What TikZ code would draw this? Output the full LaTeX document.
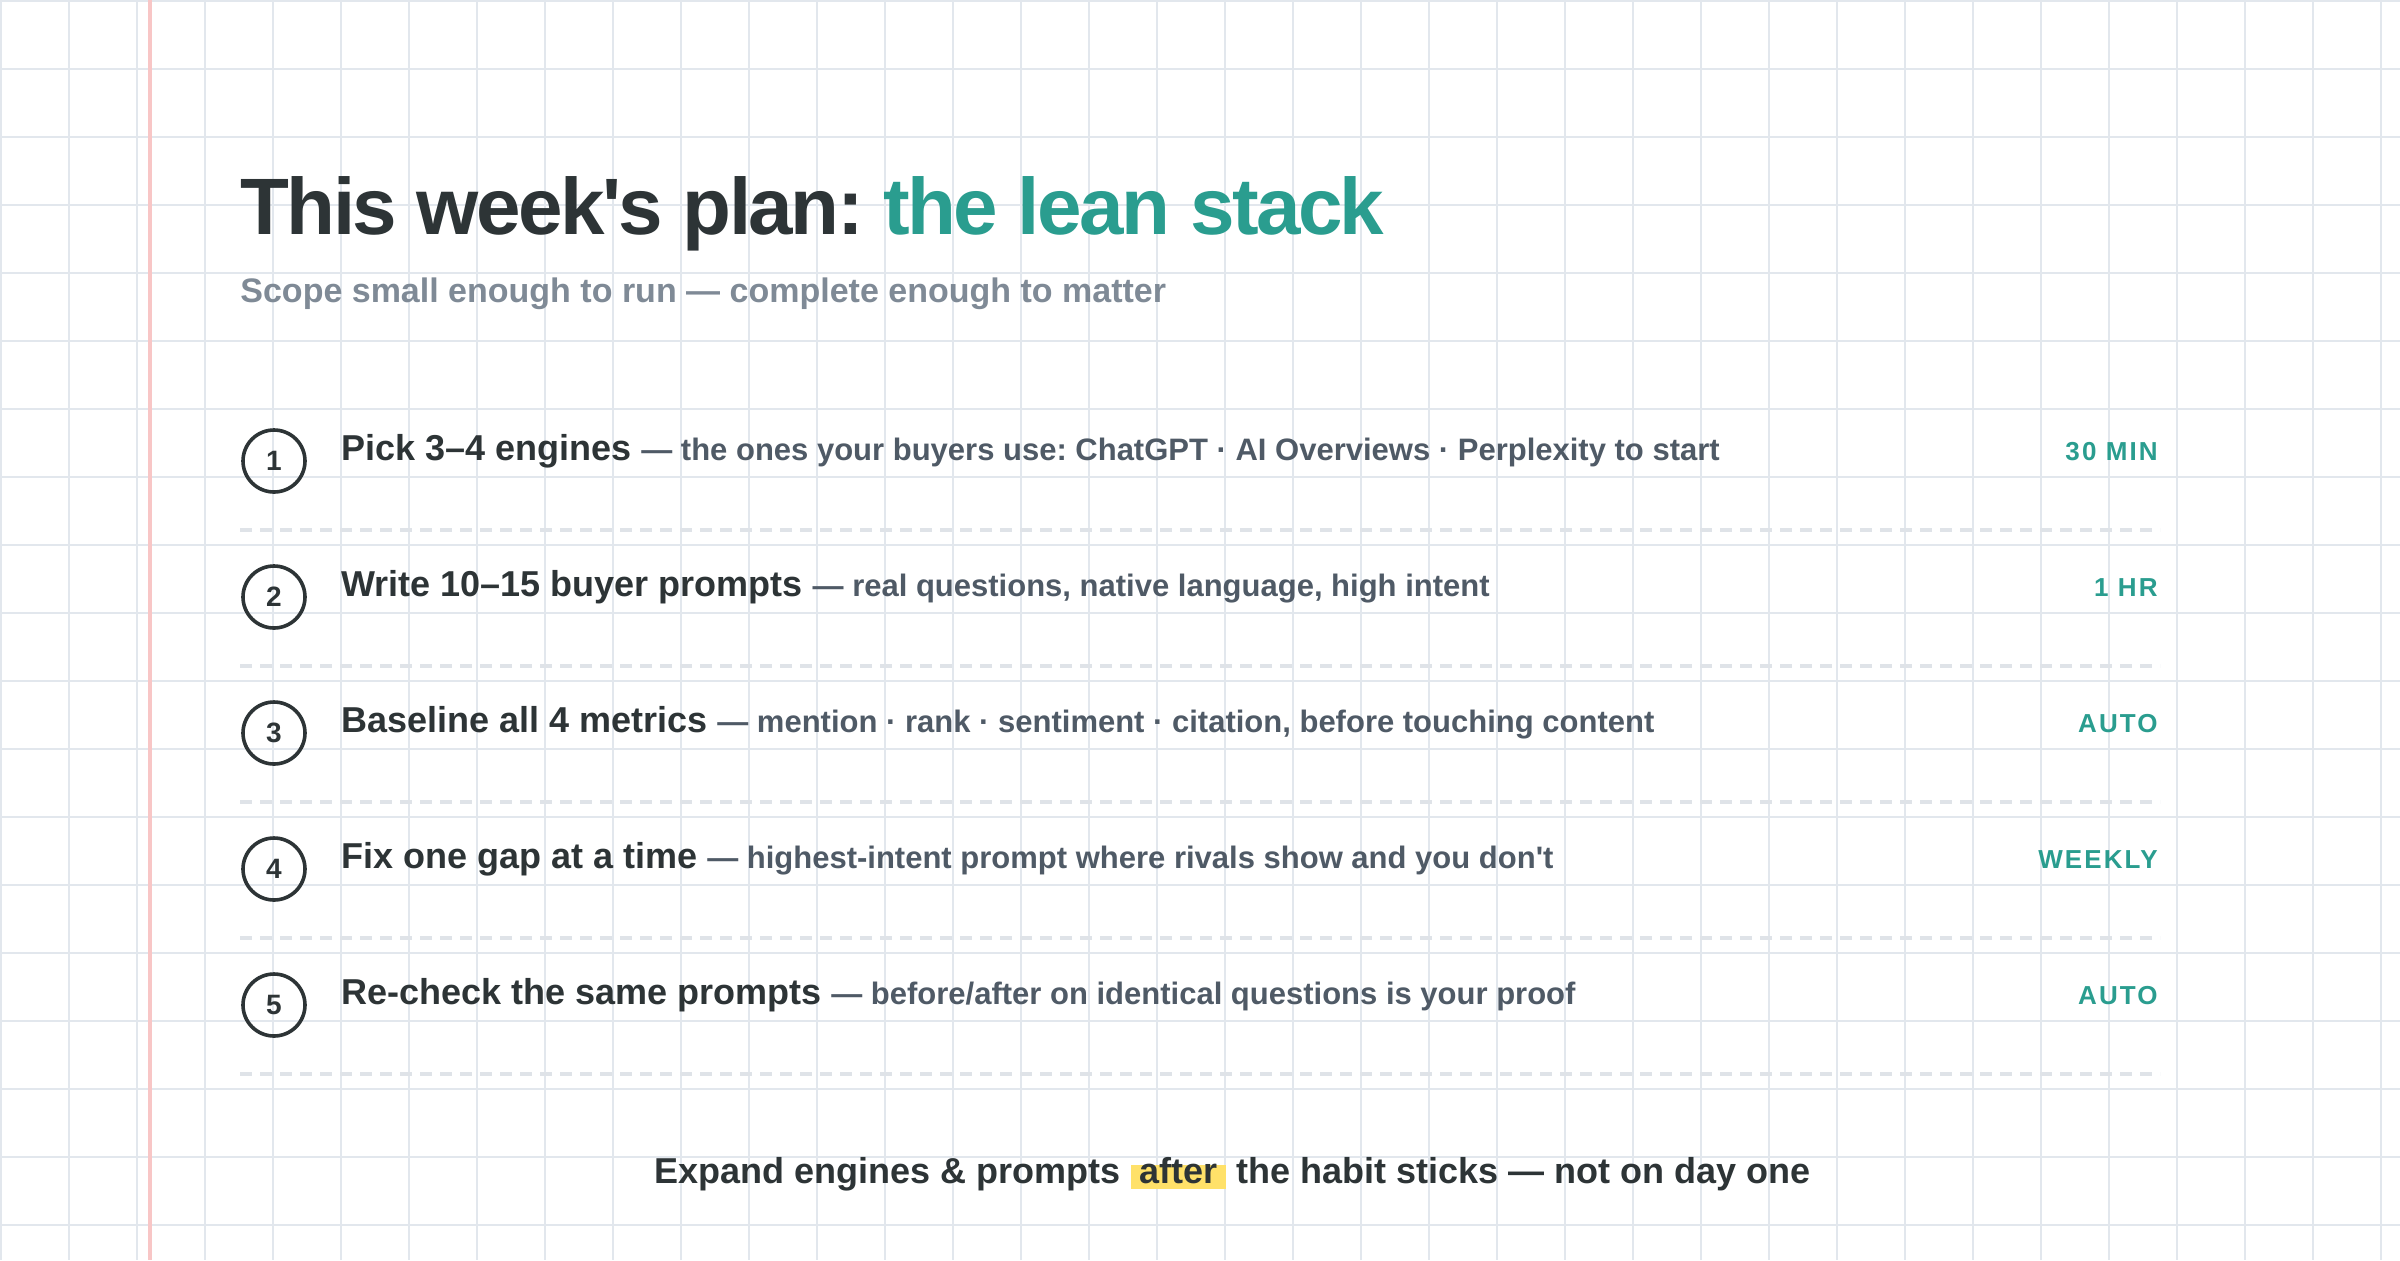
\documentclass[tikz,border=0pt]{standalone}
\usepackage{fontspec}
\setmainfont{Liberation Sans}[Ligatures=TeXOff]
\usetikzlibrary{positioning}
\frenchspacing
\definecolor{ink}{HTML}{2D3436}
\definecolor{leanteal}{HTML}{2A9D8F}
\definecolor{muted}{HTML}{7F8A96}
\definecolor{slate}{HTML}{4F5A66}
\definecolor{gridline}{HTML}{E2E7ED}
\definecolor{marginline}{HTML}{F8C6C6}
\definecolor{ruleline}{HTML}{DFE3E8}
\definecolor{marker}{HTML}{FFE169}
\pgfdeclarelayer{paper}
\pgfdeclarelayer{ink marker}
\pgfsetlayers{paper,ink marker,main}
\tikzset{
gridrule/.style={gridline, line width=1.4pt}, % squared paper
plantitle/.style={anchor=base west, inner sep=0, text=ink, font=\bfseries\fontsize{40}{48}\selectfont\addfontfeature{LetterSpace=-3.2}},
plansub/.style={anchor=base west, inner sep=0, text=muted, font=\bfseries\fontsize{17}{20}\selectfont},
num/.style={circle, draw=ink, line width=1.8pt, minimum size=31pt, inner sep=0, text=ink, font=\bfseries\fontsize{14}{16}\selectfont},
headtext/.style={anchor=base west, inner sep=0, text=ink, font=\bfseries\fontsize{18}{22}\selectfont},
infotext/.style={inner sep=0, text=slate, font=\bfseries\fontsize{15.5}{18}\selectfont},
duration/.style={anchor=base east, inner sep=0, text=leanteal, font=\bfseries\fontsize{13}{16}\selectfont\addfontfeature{LetterSpace=8}},
sepline/.style={ruleline, line width=1.6pt, dash pattern=on 6pt off 4pt}, % row separator
foottext/.style={inner sep=0, text=ink, font=\bfseries\fontsize{18}{22}\selectfont},
}

\begin{document}
\begin{tikzpicture}[x=1pt, y=-1pt]
    \useasboundingbox (0,0) rectangle (1200,630);
    % paper
    \begin{pgfonlayer}{paper}
    \fill[white] (0,0) rectangle (1200,630);
    \foreach \x in {0.5,34.5,...,1200} \draw[gridrule] (\x,0) -- (\x,630);
    \foreach \y in {0.5,34.5,...,630} \draw[gridrule] (0,\y) -- (1200,\y);
    \draw[marginline, line width=2pt] (75,0) -- (75,630);
    \end{pgfonlayer}
    % heading
    \node[plantitle] (title) at (120,117) {This week's plan: \textcolor{leanteal}{the lean stack}};
    \node[plansub] (sub) at (120,151) {Scope small enough to run — complete enough to matter};
    % steps
    \foreach \i/\hd/\tx/\dur in {
        1/{Pick 3–4 engines}/{the ones your buyers use: ChatGPT · AI Overviews · Perplexity to start}/{30 MIN},
        2/{Write 10–15 buyer prompts}/{real questions, native language, high intent}/{1 HR},
        3/{Baseline all 4 metrics}/{mention · rank · sentiment · citation, before touching content}/{AUTO},
        4/{Fix one gap at a time}/{highest-intent prompt where rivals show and you don't}/{WEEKLY},
        5/{Re-check the same prompts}/{before/after on identical questions is your proof}/{AUTO}}{
        \pgfmathsetmacro{\y}{230+68*(\i-1)}
        \node[num] (n\i) at (137,\y+0.5) {\i};
        \node[headtext] (head\i) at (170.5,\y) {\hd};
        \node[infotext, right=4.5pt of head\i.base east, anchor=base west] (info\i) {— \tx};
        \node[duration] (dur\i) at (1079,\y) {\dur};
        \draw[sepline] (120,\y+35) -- (1080,\y+35);
    }
    % footer
    \node[foottext, anchor=base west] (foot1) at (327,591.7) {Expand engines \& prompts};
    \node[foottext, right=9pt of foot1.base east, anchor=base west] (after) {after};
    \node[foottext, right=9pt of after.base east, anchor=base west] (foot2) {the habit sticks — not on day one};
    \begin{pgfonlayer}{ink marker}
    \fill[marker] ([xshift=-4pt, yshift=-3pt]after.base west) rectangle ([xshift=4pt, yshift=9pt]after.base east);
    \end{pgfonlayer}
\end{tikzpicture}
\end{document}
